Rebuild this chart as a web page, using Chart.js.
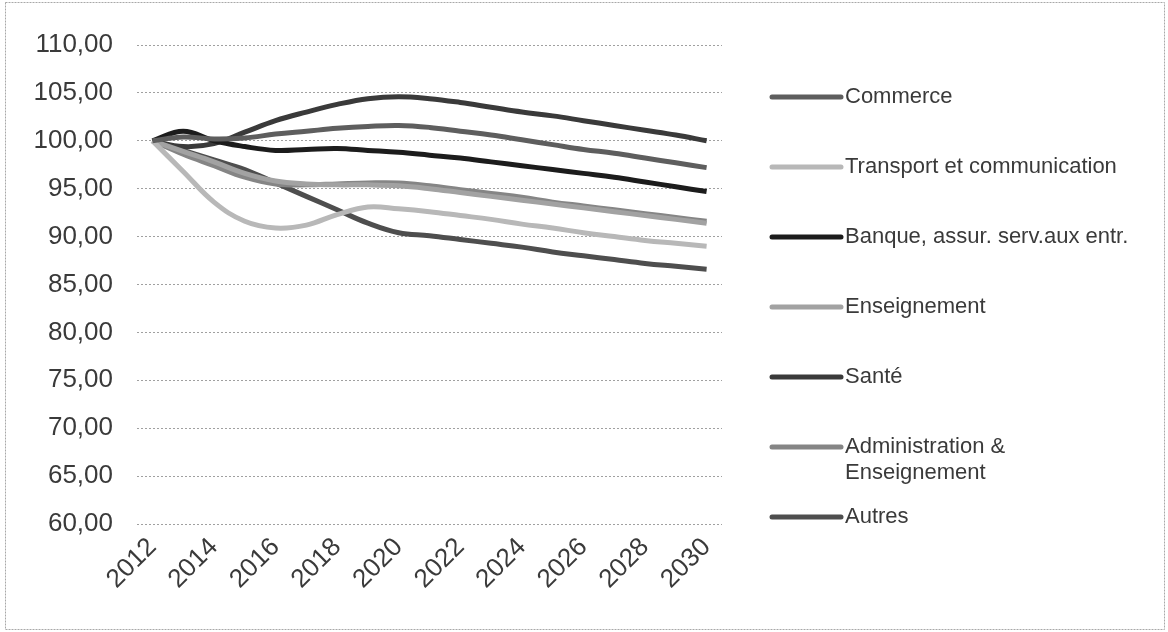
<!DOCTYPE html>
<html>
<head>
<meta charset="utf-8">
<script src="https://cdn.jsdelivr.net/npm/chart.js@4.4.1/dist/chart.umd.min.js"></script>
<style>
  html, body { margin: 0; padding: 0; background: #ffffff; }
  canvas { display: block; }
</style>
</head>
<body>
<canvas id="chart" width="1168" height="632"></canvas>
<script>
// Employment index by sector, 2012 = 100
const years = ['2012','2013','2014','2015','2016','2017','2018','2019','2020','2021',
               '2022','2023','2024','2025','2026','2027','2028','2029','2030'];
const xTickYears = ['2012','2014','2016','2018','2020','2022','2024','2026','2028','2030'];
const yMin = 60, yMax = 110, yStep = 5;

const seriesNames = [
  'Commerce',
  'Transport et communication',
  'Banque, assur. serv.aux entr.',
  'Enseignement',
  'Santé',
  'Administration & Enseignement',
  'Autres'
];

const commerce      = [100, 100.4, 100.2, 100.3, 100.7, 101.0, 101.3, 101.5, 101.6, 101.4, 101.0, 100.6, 100.1, 99.6, 99.1, 98.7, 98.2, 97.7, 97.2];
const transport     = [100, 96.8, 93.6, 91.6, 90.9, 91.2, 92.3, 93.1, 92.9, 92.6, 92.2, 91.8, 91.3, 90.9, 90.4, 90.0, 89.6, 89.3, 89.0];
const banque        = [100, 101.0, 100.0, 99.4, 99.0, 99.1, 99.2, 99.0, 98.8, 98.5, 98.2, 97.8, 97.4, 97.0, 96.6, 96.2, 95.7, 95.2, 94.7];
const enseignement  = [100, 98.9, 97.8, 96.6, 95.8, 95.5, 95.4, 95.4, 95.3, 95.0, 94.6, 94.2, 93.8, 93.4, 93.0, 92.6, 92.2, 91.8, 91.4];
const sante         = [100, 99.4, 99.7, 100.9, 102.1, 103.0, 103.8, 104.4, 104.6, 104.4, 104.0, 103.5, 103.0, 102.6, 102.1, 101.6, 101.1, 100.6, 100.0];
const adminEns      = [100, 98.6, 97.4, 96.2, 95.5, 95.4, 95.5, 95.6, 95.6, 95.3, 94.9, 94.5, 94.1, 93.6, 93.2, 92.8, 92.4, 92.0, 91.6];
const autres        = [100, 99.0, 98.0, 97.0, 95.6, 94.2, 92.8, 91.4, 90.4, 90.1, 89.7, 89.3, 88.9, 88.4, 88.0, 87.6, 87.2, 86.9, 86.6];

const seriesValues = [commerce, transport, banque, enseignement, sante, adminEns, autres];
const seriesColors = ['#5e5e5e', '#b8b8b8', '#1c1c1c', '#a2a2a2', '#3a3a3a', '#858585', '#4e4e4e'];

const FONT = '"Liberation Sans", Arial, sans-serif';
const TEXT_COLOR = '#3a3a3a';

// Legend drawn to the right of the plot, one row per series
const sideLegend = {
  id: 'sideLegend',
  afterDraw(chart) {
    const ctx = chart.ctx;
    ctx.save();
    ctx.font = '22px ' + FONT;
    ctx.textBaseline = 'middle';
    ctx.textAlign = 'left';
    chart.data.datasets.forEach((ds, i) => {
      const y = 97 + i * 70;
      ctx.strokeStyle = ds.borderColor;
      ctx.lineWidth = 5;
      ctx.lineCap = 'round';
      ctx.beginPath();
      ctx.moveTo(772, y);
      ctx.lineTo(841, y);
      ctx.stroke();
      ctx.fillStyle = TEXT_COLOR;
      const words = ds.label.split(' ');
      const lines = [];
      let cur = '';
      words.forEach(w => {
        const test = cur ? cur + ' ' + w : w;
        if (cur && ctx.measureText(test).width > 300) { lines.push(cur); cur = w; }
        else cur = test;
      });
      if (cur) lines.push(cur);
      lines.forEach((ln, k) => ctx.fillText(ln, 845, y + k * 26));
    });
    ctx.restore();
  }
};

// Thin frame around the chart
const frame = {
  id: 'frame',
  afterDraw(chart) {
    const ctx = chart.ctx;
    ctx.save();
    ctx.strokeStyle = '#a8a8a8';
    ctx.lineWidth = 1;
    ctx.setLineDash([2, 1]);
    ctx.strokeRect(5.5, 2.5, chart.width - 9, chart.height - 5);
    ctx.restore();
  }
};

new Chart(document.getElementById('chart'), {
  type: 'line',
  data: {
    labels: years,
    datasets: seriesValues.map((vals, i) => ({
      label: seriesNames[i],
      data: vals,
      borderColor: seriesColors[i],
      backgroundColor: seriesColors[i],
      borderWidth: 5,
      pointRadius: 0,
      tension: 0.4,
      fill: false
    }))
  },
  options: {
    responsive: false,
    animation: false,
    layout: { padding: { top: 45, right: 446, bottom: 0, left: 0 } },
    plugins: {
      legend: { display: false },
      tooltip: { enabled: false }
    },
    scales: {
      x: {
        type: 'category',
        offset: true,
        grid: { display: false, drawTicks: false },
        border: { display: false },
        ticks: {
          autoSkip: false,
          minRotation: 45,
          maxRotation: 45,
          padding: 8,
          color: TEXT_COLOR,
          font: { family: FONT, size: 26 },
          callback(value, index) {
            const lab = years[index];
            return xTickYears.includes(lab) ? lab : '';
          }
        },
        afterFit(scale) { scale.height = 108; }
      },
      y: {
        min: yMin,
        max: yMax,
        grid: { color: '#a0a0a0', lineWidth: 1, drawTicks: false },
        border: { display: false, dash: [2, 2] },
        ticks: {
          stepSize: yStep,
          padding: 24,
          color: TEXT_COLOR,
          font: { family: FONT, size: 26 },
          callback(v) { return v.toFixed(2).replace('.', ','); }
        },
        afterFit(scale) { scale.width = 137; }
      }
    }
  },
  plugins: [sideLegend, frame]
});
</script>
</body>
</html>
